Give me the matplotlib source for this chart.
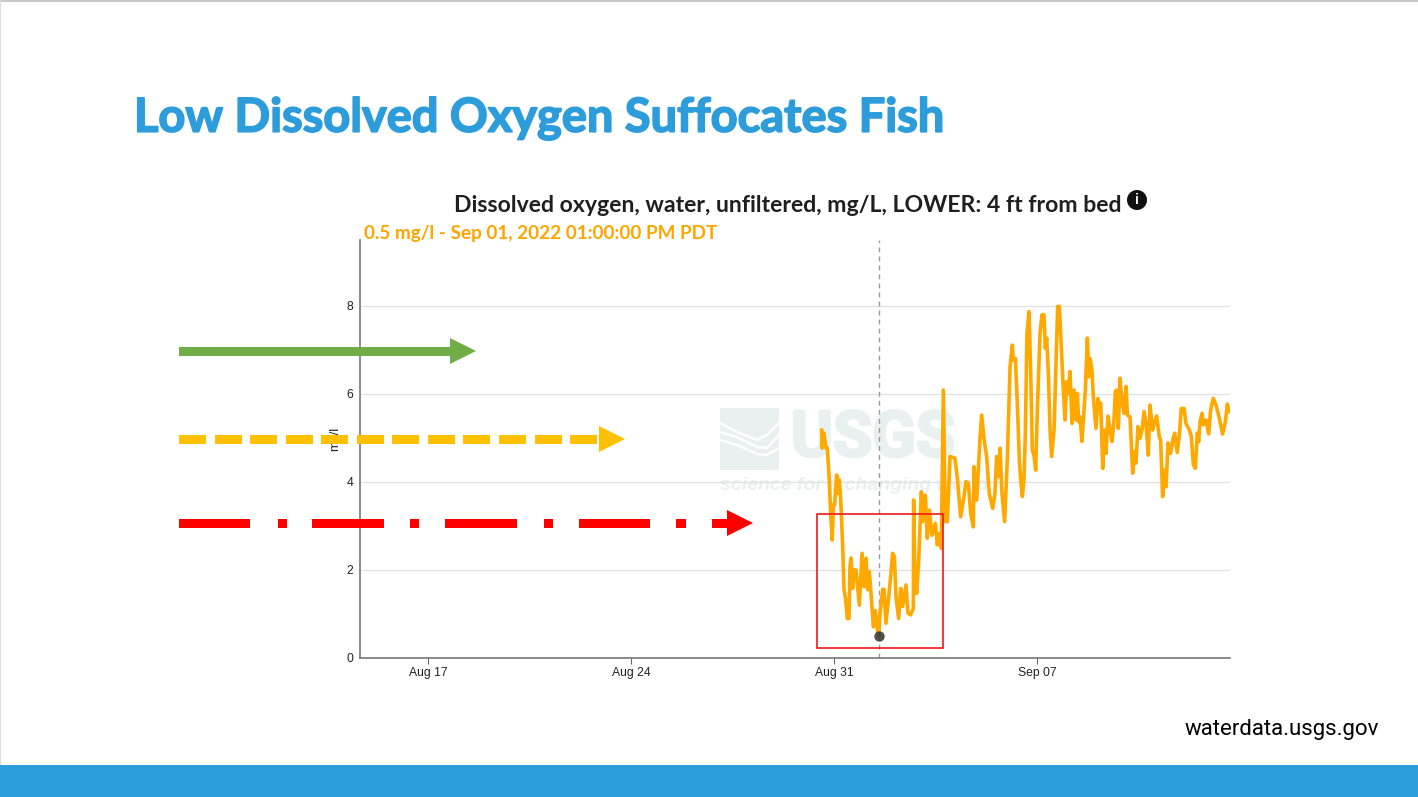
import matplotlib
matplotlib.use("Agg")
import matplotlib.pyplot as plt
import matplotlib.patheffects as pe
from matplotlib.patches import Rectangle, Circle, Polygon
import numpy as np
import pandas as pd

W, H = 1418, 797

# hours after Aug 31 2022 00:00 / dissolved oxygen mg/L
hours = [-10.2, -9.9, -8.3, -6.6, -5.5, -3.9, -2.8, -1.4, -0.6, 0.5, 2.2, 3.3, 4.4, 5.5, 7.2, 8.3, 9.7, 11.0, 12.4, 13.2,
         14.1, 15.4, 16.5, 18.2, 21.0, 23.2, 24.8, 26.5, 27.9, 29.2, 30.6, 32.6, 34.2, 35.9, 37.0, 38.1, 40.3, 41.4, 43.0, 45.0,
         46.9, 48.5, 50.0, 51.3, 53.5, 55.2, 56.8, 59.6, 61.2, 63.4, 65.7, 65.9, 66.8, 68.4, 70.1, 72.3, 73.4, 75.6, 77.2, 78.9,
         81.1, 83.9, 85.5, 87.2, 88.8, 90.5, 92.1, 93.8, 96.0, 100.1, 102.1, 104.8, 107.6, 109.2, 111.2, 113.1, 115.3, 115.9, 118.1, 120.8,
         122.2, 124.1, 126.3, 128.5, 131.3, 133.2, 134.6, 136.0, 137.4, 139.0, 141.2, 143.4, 145.7, 147.6, 148.4, 150.1, 151.7, 153.4, 154.5, 155.9,
         157.2, 158.3, 159.7, 161.4, 162.8, 164.1, 165.5, 166.9, 168.3, 170.5, 172.1, 173.8, 174.9, 176.0, 177.4, 178.8, 180.1, 182.1, 184.3, 185.1,
         186.5, 188.1, 189.8, 191.2, 192.5, 193.9, 195.3, 197.0, 198.6, 200.3, 201.4, 202.5, 203.6, 205.2, 208.0, 209.7, 210.8, 211.9, 213.5, 214.6,
         216.8, 218.5, 219.6, 220.7, 222.4, 224.0, 225.1, 226.8, 228.4, 230.1, 231.7, 232.8, 233.9, 235.3, 236.7, 238.3, 240.0, 241.7, 242.8, 245.0,
         247.2, 248.8, 249.9, 251.6, 253.2, 254.9, 256.6, 258.2, 260.1, 261.5, 263.7, 265.4, 267.0, 269.2, 270.3, 272.0, 273.1, 274.8, 276.4, 278.6,
         280.3, 281.9, 284.1, 285.8, 287.4, 289.7, 291.3, 294.1, 295.7, 297.4, 299.0, 300.7, 301.8, 302.9, 304.6, 305.7, 307.9, 310.1, 311.7, 313.9,
         316.1, 318.9, 321.6, 323.9, 325.5, 327.2]
oxygen = [5.18, 4.77, 5.11, 4.77, 4.77, 4.05, 3.29, 2.68, 3.48, 3.48, 4.16, 3.74, 4.05, 3.63, 2.53, 1.55, 1.32, 0.90, 0.90, 2.08,
          2.27, 1.58, 2.00, 2.00, 1.20, 2.38, 1.62, 2.27, 1.55, 1.96, 1.47, 0.71, 1.08, 0.64, 0.50, 1.02, 1.56, 1.56, 0.79, 1.32,
          1.85, 2.38, 2.30, 1.39, 0.90, 1.58, 1.17, 1.66, 1.02, 0.98, 1.13, 3.59, 2.08, 1.47, 2.23, 3.78, 3.10, 3.70, 2.72, 3.36,
          2.79, 3.06, 2.57, 2.83, 2.49, 6.09, 3.10, 3.10, 4.58, 4.54, 4.08, 3.21, 3.67, 4.01, 3.97, 3.29, 2.98, 4.35, 3.59, 4.99,
          5.52, 4.99, 4.58, 3.74, 3.40, 3.74, 4.58, 4.12, 4.77, 3.74, 3.10, 4.50, 6.62, 7.11, 6.77, 6.81, 5.79, 4.50, 4.05, 3.67,
          4.05, 5.03, 7.38, 7.87, 6.47, 4.73, 4.61, 4.27, 5.67, 7.38, 7.80, 7.80, 7.04, 7.27, 6.47, 5.18, 4.58, 5.18, 7.23, 7.99,
          7.99, 7.08, 6.09, 5.41, 6.28, 6.01, 6.51, 5.33, 6.09, 5.41, 6.01, 5.37, 5.48, 4.92, 6.09, 7.27, 6.39, 6.81, 6.55, 5.94,
          5.22, 5.90, 5.75, 5.79, 4.31, 5.18, 4.65, 5.50, 5.18, 4.92, 5.41, 6.05, 6.09, 5.22, 6.36, 5.83, 5.56, 6.17, 5.52, 5.48,
          4.20, 4.69, 4.43, 5.26, 4.99, 5.18, 5.60, 5.33, 4.61, 5.75, 5.18, 5.37, 5.50, 5.03, 4.95, 3.67, 4.27, 3.89, 4.89, 4.65,
          4.95, 5.11, 4.67, 5.07, 5.67, 5.67, 5.33, 5.18, 5.03, 4.39, 4.31, 5.11, 4.92, 5.37, 5.56, 5.30, 5.41, 5.09, 5.64, 5.90,
          5.75, 5.45, 5.09, 5.37, 5.77, 5.60]

y_ticks = [0, 2, 4, 6, 8]
x_ticks = ["2022-08-17", "2022-08-24", "2022-08-31", "2022-09-07"]
x_tick_labels = ["Aug 17", "Aug 24", "Aug 31", "Sep 07"]
cursor_time = pd.Timestamp("2022-09-01 13:00")
cursor_value = 0.5

title = "Low Dissolved Oxygen Suffocates Fish"
chart_title = "Dissolved oxygen, water, unfiltered, mg/L, LOWER: 4 ft from bed"
cursor_label = "0.5 mg/l - Sep 01, 2022 01:00:00 PM PDT"

BLUE = "#2D9CDB"
ORANGE = "#FFA800"

fig = plt.figure(figsize=(W / 100, H / 100), dpi=100, facecolor="white")

# slide background, pixel coordinates
bg = fig.add_axes([0, 0, 1, 1], zorder=0)
bg.set_xlim(0, W); bg.set_ylim(H, 0); bg.axis("off")
bg.add_patch(Rectangle((0, 765), W, 32, color=BLUE, lw=0))
bg.add_patch(Rectangle((0, 0), W, 1.5, color="#c8c8c8", lw=0))
bg.add_patch(Rectangle((0, 0), 1, 765, color="#dcdcdc", lw=0))
bg.text(134, 118, title, color=BLUE, fontsize=33.8, fontweight="bold", family="Lato", va="center", ha="left",
        path_effects=[pe.withStroke(linewidth=1.2, foreground=BLUE)])
bg.text(454, 205, chart_title, color="#1f1f1f", fontsize=16.6, fontweight="bold", family="Lato", va="center", ha="left")
bg.text(364, 233, cursor_label, color="#FFA500", fontsize=13.6, fontweight="bold", family="Lato", va="center", ha="left")
bg.text(1379, 729, "waterdata.usgs.gov", color="black", fontsize=16, family="Roboto", va="center", ha="right")
bg.add_patch(Circle((1137, 200), 10, color="#111111", lw=0))
bg.text(1137, 200, "i", color="white", fontsize=10, fontweight="bold", family="Liberation Sans", va="center", ha="center")

# USGS watermark
WM = "#E8F1EF"
bg.add_patch(Rectangle((720, 408), 59, 62, color=WM, lw=0))
wave_x = np.array([720, 737, 757, 767, 779])
for wave_y in ([423, 432, 440, 435, 423], [432, 437, 447, 448, 435], [440, 445, 454, 455, 448]):
    bg.plot(wave_x, wave_y, color="white", lw=1.8)
bg.text(873, 439, "USGS", color=WM, fontsize=46, fontweight="bold", family="Roboto", va="center", ha="center",
        path_effects=[pe.withStroke(linewidth=2, foreground=WM)])
bg.text(720, 485, "science for a changing world", color=WM, fontsize=14, fontweight="bold", style="italic",
        family="Liberation Sans", va="center", ha="left")

# chart
left, right, top, bottom = 360, 1230, 240, 658
ax = fig.add_axes([left / W, 1 - bottom / H, (right - left) / W, (bottom - top) / H], zorder=1)
ax.patch.set_alpha(0)
times = pd.Timestamp("2022-08-31") + pd.to_timedelta(hours, unit="h")
ax.plot([cursor_time, cursor_time], [0, 9.5], color="#999999", lw=1, dashes=(3.5, 3), zorder=1.5)
ax.plot(times, oxygen, color=ORANGE, lw=2.6, solid_joinstyle="round", zorder=2)
ax.plot([cursor_time], [cursor_value], "o", color="#333333", alpha=0.85, ms=7.5, mew=0, zorder=3)
t0 = pd.Timestamp("2022-08-31")
ax.set_xlim(t0 - pd.Timedelta(days=474 / 29), t0 + pd.Timedelta(days=396 / 29))
ax.set_ylim(0, 418 / 44)
ax.set_yticks(y_ticks)
ax.set_xticks(pd.to_datetime(x_ticks))
ax.set_xticklabels(x_tick_labels)
ax.tick_params(axis="x", length=4, color="#666666", labelsize=8.7, labelcolor="#222222", pad=2.5)
ax.tick_params(axis="y", length=0, labelsize=8.7, labelcolor="#222222", pad=5)
for t in ax.get_xticklabels() + ax.get_yticklabels():
    t.set_family("Liberation Sans")
ax.grid(axis="y", color="#e2e2e2", lw=1)
ax.set_axisbelow(True)
for s in ("top", "right"):
    ax.spines[s].set_visible(False)
for s in ("left", "bottom"):
    ax.spines[s].set_color("#777777")
    ax.spines[s].set_linewidth(1.2)
ax.text(335, 439, "mg/l", transform=bg.transData, rotation=90, fontsize=9.2, family="Liberation Sans",
        color="#222222", va="center", ha="center")

# hand-drawn arrows and box on top of the chart
top_ax = fig.add_axes([0, 0, 1, 1], zorder=2)
top_ax.set_xlim(0, W); top_ax.set_ylim(H, 0); top_ax.axis("off")


def arrow(y, segments, head_x, color):
    for a, b in segments:
        top_ax.add_patch(Rectangle((a, y - 4.5), b - a, 9, color=color, lw=0))
    top_ax.add_patch(Polygon([(head_x, y - 13), (head_x + 26, y), (head_x, y + 13)], color=color, lw=0))


arrow(351, [(179, 450)], 450, "#70AD47")
yellow_segments = [(179 + i * 35.55, 179 + i * 35.55 + 27) for i in range(12)]
arrow(439, yellow_segments, 599, "#FFC000")
red_segments = [(179, 250), (278, 287), (312, 384), (410, 419), (445, 517), (544, 553), (579, 650), (676, 686), (712, 727)]
arrow(523, red_segments, 727, "#FF0000")
top_ax.add_patch(Rectangle((817, 514), 126, 134, fill=False, ec="#F01818", lw=1.2))

fig.savefig("out.png", dpi=100)
